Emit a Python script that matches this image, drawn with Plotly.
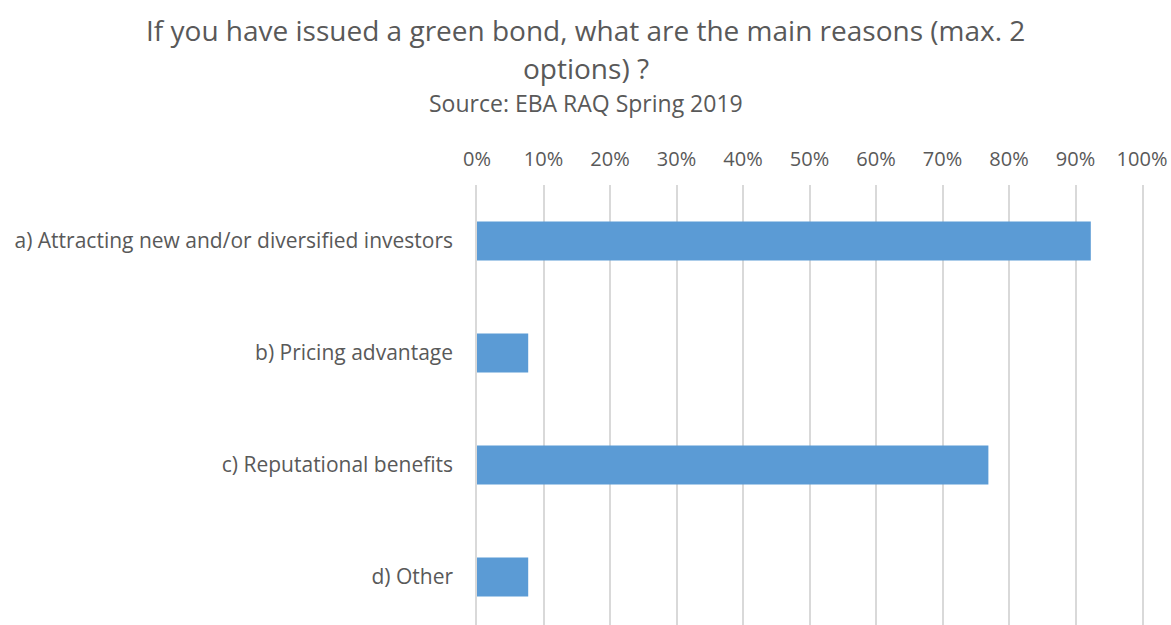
import plotly.graph_objects as go

# Survey responses: share of banks citing each reason (max. 2 options)
categories = [
    "a) Attracting new and/or diversified investors",
    "b) Pricing advantage",
    "c) Reputational benefits",
    "d) Other",
]
shares = [0.923, 0.077, 0.769, 0.077]
tick_values = [0, 0.1, 0.2, 0.3, 0.4, 0.5, 0.6, 0.7, 0.8, 0.9, 1.0]
tick_labels = ["0%", "10%", "20%", "30%", "40%", "50%", "60%", "70%", "80%", "90%", "100%"]

title_line1 = "If you have issued a green bond, what are the main reasons (max. 2"
title_line2 = "options) ?"
subtitle = "Source: EBA RAQ Spring 2019"

W, H = 1171, 625
M_L, M_R, M_T, M_B = 477, 29, 185, 0
plot_h = H - M_T - M_B

TEXT = "#595959"
GRID = "#D9D9D9"
FONT = "Open Sans"

fig = go.Figure(
    go.Bar(
        x=shares,
        y=categories,
        orientation="h",
        width=0.35,
        marker=dict(color="#5B9BD5", line=dict(width=0)),
        hoverinfo="x+y",
    )
)


def py(px_from_top):
    """Convert a pixel offset from the top of the page to paper y."""
    return (H - M_B - px_from_top) / plot_h


page_center_x = (W / 2 - M_L) / (W - M_L - M_R)
annotations = [
    dict(text=title_line1, y=py(30), font=dict(size=28, color=TEXT)),
    dict(text=title_line2, y=py(68), font=dict(size=28, color=TEXT)),
    dict(text=subtitle, y=py(103), font=dict(size=23, color=TEXT)),
]
for a in annotations:
    a.update(xref="paper", yref="paper", x=page_center_x, showarrow=False,
             xanchor="center", yanchor="middle")

fig.update_layout(
    width=W,
    height=H,
    margin=dict(l=M_L, r=M_R, t=M_T, b=M_B, pad=0),
    paper_bgcolor="white",
    plot_bgcolor="white",
    font=dict(family=FONT, color=TEXT, size=20),
    showlegend=False,
    annotations=annotations,
)

fig.update_xaxes(
    side="top",
    range=[0, 1.0],
    tickvals=tick_values,
    ticktext=tick_labels,
    showgrid=True,
    gridcolor=GRID,
    gridwidth=1.5,
    zeroline=False,
    showline=False,
    ticks="",
    ticklabelstandoff=14,
    tickfont=dict(size=20, color=TEXT, family=FONT),
    fixedrange=True,
)

# the y-axis line, mirrored, draws the 0% and 100% gridlines at the plot edges
fig.update_yaxes(
    type="category",
    categoryorder="array",
    categoryarray=categories,
    range=[-0.5 + plot_h / 112, -0.5],
    showgrid=False,
    zeroline=False,
    showline=True,
    mirror=True,
    linecolor=GRID,
    linewidth=1.5,
    ticks="",
    ticklabelstandoff=18,
    tickfont=dict(size=21, color=TEXT, family=FONT),
    fixedrange=True,
)

fig.write_html("out.html")
